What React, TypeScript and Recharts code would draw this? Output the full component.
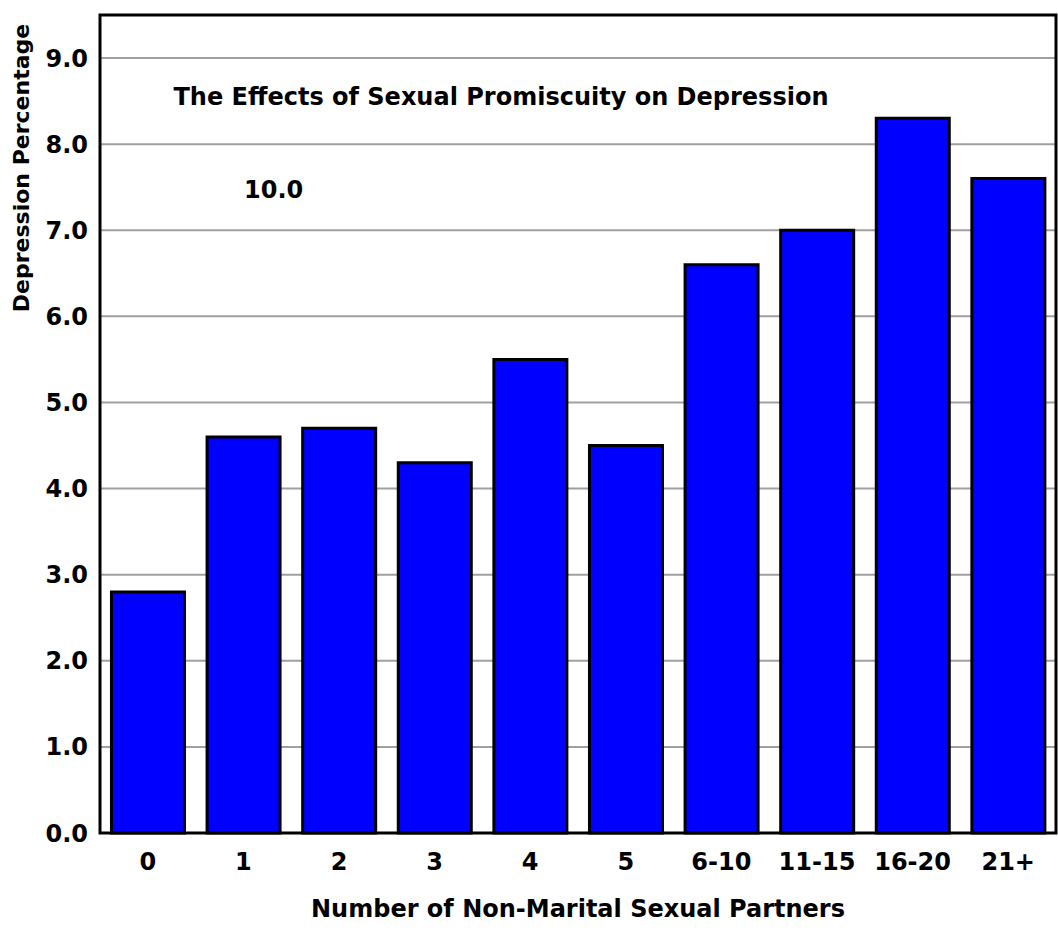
import { BarChart, Bar, XAxis, YAxis, CartesianGrid, ReferenceArea } from "recharts";

const categories = ["0", "1", "2", "3", "4", "5", "6-10", "11-15", "16-20", "21+"];
const depression = [2.8, 4.6, 4.7, 4.3, 5.5, 4.5, 6.6, 7.0, 8.3, 7.6];
const yTicks = [0, 1, 2, 3, 4, 5, 6, 7, 8, 9];

const title = "The Effects of Sexual Promiscuity on Depression";
const strayLabel = "10.0";
const xLabel = "Number of Non-Marital Sexual Partners";
const yLabel = "Depression Percentage";

const data = categories.map((c, i) => ({ name: c, value: depression[i] }));

const font = "'DejaVu Sans', sans-serif";
const tickStyle = { fill: "#000", fontSize: 24, fontWeight: "bold", fontFamily: font };

export default function App() {
  return (
    <div style={{ position: "absolute", left: 0, top: 0, width: 1058, height: 936, background: "#fff", fontFamily: font }}>
      <BarChart
        width={1058}
        height={936}
        data={data}
        margin={{ top: 15, right: 2, bottom: 0, left: 0 }}
        barCategoryGap="12%"
      >
        <CartesianGrid vertical={false} stroke="#a0a0a0" strokeWidth={2} />
        <XAxis
          dataKey="name"
          height={103}
          axisLine={false}
          tickLine={false}
          tick={tickStyle}
          tickMargin={14}
        />
        <YAxis
          domain={[0, 9.5]}
          ticks={yTicks}
          width={100}
          axisLine={false}
          tickLine={false}
          tick={tickStyle}
          tickFormatter={(v) => Number(v).toFixed(1)}
          tickMargin={6}
        />
        <Bar dataKey="value" fill="#0000ff" stroke="#000" strokeWidth={3} isAnimationActive={false} />
        <ReferenceArea y1={0} y2={9.5} fill="none" stroke="#000" strokeWidth={3} ifOverflow="visible" />
      </BarChart>
      <div style={{ position: "absolute", left: 0, width: 1002, top: 82, textAlign: "center", fontSize: 24, fontWeight: "bold", lineHeight: "30px" }}>
        {title}
      </div>
      <div style={{ position: "absolute", left: 244, top: 175, fontSize: 24, fontWeight: "bold", lineHeight: "30px" }}>
        {strayLabel}
      </div>
      <div style={{ position: "absolute", left: 100, width: 956, top: 894, textAlign: "center", fontSize: 24, fontWeight: "bold", lineHeight: "30px" }}>
        {xLabel}
      </div>
      <div
        style={{
          position: "absolute",
          left: 22,
          top: 168,
          transform: "translate(-50%, -50%) rotate(-90deg)",
          whiteSpace: "nowrap",
          fontSize: 22,
          fontWeight: "bold",
          lineHeight: "30px",
        }}
      >
        {yLabel}
      </div>
    </div>
  );
}
